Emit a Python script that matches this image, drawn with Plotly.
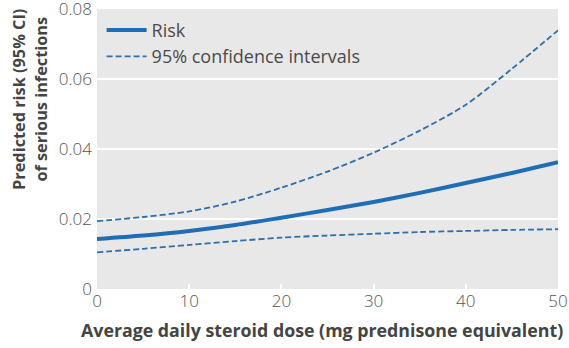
import plotly.graph_objects as go

dose = [0, 5, 10, 15, 20, 25, 30, 35, 40, 45, 50]
risk = [0.0143, 0.0153, 0.0166, 0.0183, 0.0204, 0.0226, 0.0249, 0.0275, 0.0303, 0.0332, 0.0363]
upper = [0.0194, 0.0206, 0.0222, 0.0250, 0.0290, 0.0336, 0.0390, 0.0453, 0.0527, 0.0630, 0.0740]
lower = [0.0105, 0.0115, 0.0126, 0.0137, 0.0147, 0.0153, 0.0158, 0.0163, 0.0166, 0.0169, 0.0171]

x_ticks = [0, 10, 20, 30, 40, 50]
y_ticks = [0, 0.02, 0.04, 0.06, 0.08]
y_tick_labels = ["0", "0.02", "0.04", "0.06", "0.08"]

blue = "#1f6db4"
dash_blue = "#2f6ea8"
font_family = "Open Sans, Lato, sans-serif"

fig = go.Figure()
fig.add_trace(go.Scatter(x=dose, y=risk, mode="lines", name="Risk",
                         line=dict(color=blue, width=4, shape="spline", smoothing=0.8)))
fig.add_trace(go.Scatter(x=dose, y=upper, mode="lines", name="95% confidence intervals",
                         legendgroup="ci",
                         line=dict(color=dash_blue, width=1.8, dash="6px,3px", shape="spline", smoothing=0.8)))
fig.add_trace(go.Scatter(x=dose, y=lower, mode="lines", name="95% confidence intervals",
                         legendgroup="ci", showlegend=False,
                         line=dict(color=dash_blue, width=1.8, dash="6px,3px", shape="spline", smoothing=0.8)))

fig.update_layout(
    width=569, height=348,
    margin=dict(l=97, r=11, t=9, b=59, autoexpand=False),
    paper_bgcolor="white",
    plot_bgcolor="#e8e8e8",
    font=dict(family=font_family, color="#555555", size=17),
    showlegend=True,
    legend=dict(x=0.01, y=0.99, xanchor="left", yanchor="top",
                bgcolor="rgba(0,0,0,0)", font=dict(size=18, color="#4a4a4a"),
                itemwidth=40, tracegroupgap=0),
    xaxis=dict(range=[0, 50], tickvals=x_ticks, showgrid=False, zeroline=False,
               ticks="inside", ticklen=5, tickcolor="white", tickwidth=2,
               showline=False, automargin=False, ticklabeloverflow="allow",
               tickfont=dict(size=17, color="#555555", weight=300)),
    yaxis=dict(range=[0, 0.0801], tickvals=y_ticks, ticktext=y_tick_labels,
               showgrid=True, gridcolor="white", gridwidth=2, zeroline=False,
               showline=False, ticks="", ticklabelstandoff=4, automargin=False,
               ticklabeloverflow="allow",
               tickfont=dict(size=17, color="#555555", weight=300)),
    annotations=[
        dict(text="<b>Predicted risk (95% CI)<br>of serious infections</b>",
             xref="paper", yref="paper", x=-0.145, y=0.676,
             xanchor="center", yanchor="middle",
             textangle=-90, showarrow=False,
             font=dict(size=16.3, color="#444444")),
        dict(text="<b>Average daily steroid dose (mg prednisone equivalent)</b>",
             xref="paper", yref="paper", x=0.487, y=-0.146,
             xanchor="center", yanchor="middle", showarrow=False,
             font=dict(size=17.8, color="#444444")),
    ],
)

fig.write_html("out.html", config={"displayModeBar": False},
               post_script="document.body.style.margin='0';document.body.style.overflow='hidden';")
